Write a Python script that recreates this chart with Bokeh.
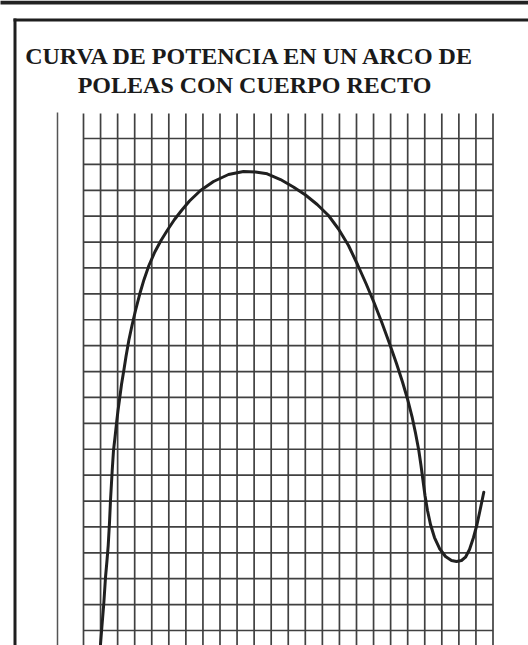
from bokeh.plotting import figure
from bokeh.models import Range1d, ColumnDataSource
from bokeh.core.properties import value
from bokeh.embed import file_html
from bokeh.resources import INLINE

# ---- data (grid units: x = column index, y = row index from the bottom line) ----
title_lines = ["CURVA DE POTENCIA EN UN ARCO DE", "POLEAS CON CUERPO RECTO"]
grid_x_ticks = list(range(0, 25))      # 25 vertical grid lines
grid_y_ticks = list(range(0, 20))      # 20 horizontal grid lines
curve_x = [0.967, 1.084, 1.190, 1.289, 1.377, 1.448, 1.524, 1.582, 1.682, 1.758,
           1.846, 1.934, 2.022, 2.127, 2.227, 2.362, 2.491, 2.655, 2.842, 3.048,
           3.288, 3.540, 3.833, 4.179, 4.542, 4.923, 5.333, 5.744, 6.212, 6.857,
           7.619, 8.498, 9.377, 10.081, 10.766, 11.546, 12.325, 13.011, 13.697, 14.359,
           14.945, 15.531, 16.059, 16.557, 17.026, 17.495, 17.934, 18.344, 18.696, 18.989,
           19.253, 19.458, 19.652, 19.780, 19.897, 20.015, 20.161, 20.337, 20.571, 20.864,
           21.216, 21.568, 21.861, 22.154, 22.388, 22.623, 22.857, 23.062, 23.238, 23.460]
curve_y = [-0.772, 0.193, 1.043, 2.047, 2.703, 3.282, 4.171, 5.020, 6.179, 6.951,
           7.453, 7.994, 8.496, 8.998, 9.500, 10.041, 10.581, 11.199, 11.778, 12.358,
           12.975, 13.539, 14.095, 14.617, 15.061, 15.466, 15.872, 16.219, 16.586, 16.992,
           17.339, 17.610, 17.725, 17.706, 17.636, 17.416, 17.119, 16.818, 16.451, 16.026,
           15.505, 14.868, 14.134, 13.400, 12.667, 11.875, 11.083, 10.311, 9.596, 8.940,
           8.264, 7.627, 6.951, 6.372, 5.793, 5.213, 4.634, 4.093, 3.591, 3.167,
           2.858, 2.703, 2.665, 2.703, 2.831, 3.128, 3.591, 4.093, 4.634, 5.341]

# ---- layout (the page is drawn from its top-left corner) ----
W, H = 528, 645
PX_X0, PX_UNIT_X = 83.0, 17.0625      # page px of grid x=0, px per column
PX_Y0, PX_UNIT_Y = 630.0, 25.895      # page px of grid y=0, px per row
X0 = (0 - PX_X0) / PX_UNIT_X
X1 = X0 + W / PX_UNIT_X
Y1 = (PX_Y0 - 0) / PX_UNIT_Y
Y0 = Y1 - H / PX_UNIT_Y

def dx(px):
    return (px - PX_X0) / PX_UNIT_X

def dy(py):
    return (PX_Y0 - py) / PX_UNIT_Y

p = figure(width=W, height=H, x_range=Range1d(X0, X1), y_range=Range1d(Y0, Y1),
           output_backend="svg", toolbar_location=None, min_border=0,
           x_axis_type=None, y_axis_type=None, outline_line_color=None,
           background_fill_color="white", border_fill_color="white")

grid_color = "#404040"
top_grid = dy(113)
bottom = Y0 - 0.5

# vertical grid lines
p.segment(x0=grid_x_ticks, y0=[bottom] * len(grid_x_ticks),
          x1=grid_x_ticks, y1=[top_grid] * len(grid_x_ticks),
          line_color=grid_color, line_width=1.7)
# horizontal grid lines
p.segment(x0=[grid_x_ticks[0]] * len(grid_y_ticks), y0=grid_y_ticks,
          x1=[grid_x_ticks[-1]] * len(grid_y_ticks), y1=grid_y_ticks,
          line_color=grid_color, line_width=1.7)

# separate vertical axis line left of grid
p.segment(x0=[dx(57)], y0=[bottom], x1=[dx(57)], y1=[dy(112)],
          line_color="#555555", line_width=1.5)

# box frame (left and top borders) and the border of the box above
p.segment(x0=[dx(14.5)], y0=[bottom], x1=[dx(14.5)], y1=[dy(18)],
          line_color="#1e1e1e", line_width=3)
p.segment(x0=[dx(13)], y0=[dy(19.5)], x1=[X1 + 1], y1=[dy(19.5)],
          line_color="#1e1e1e", line_width=3)
p.segment(x0=[X0 - 1], y0=[dy(2)], x1=[X1 + 1], y1=[dy(2)],
          line_color="#222222", line_width=4)

# title
p.text(x=[dx(250), dx(254)], y=[dy(55), dy(84)], text=title_lines,
       text_font=value("Liberation Serif"), text_font_style="bold",
       text_font_size="24px", text_align="center", text_baseline="alphabetic",
       text_color="#1a1a1a")

# power curve
src = ColumnDataSource(data=dict(x=curve_x, y=curve_y))
p.line(x="x", y="y", source=src, line_color="#202020", line_width=3,
       line_join="round", line_cap="round")

open("out.html", "w").write(file_html(p, INLINE))
